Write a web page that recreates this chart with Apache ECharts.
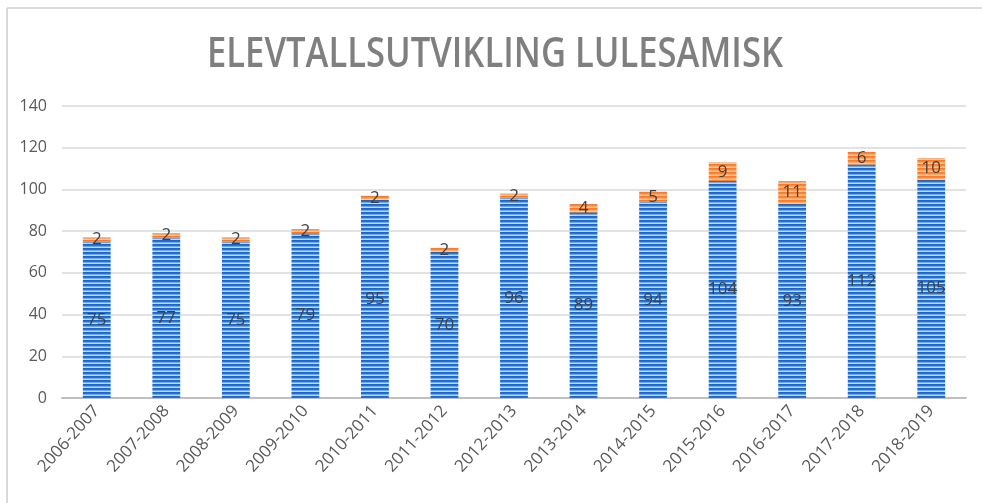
<!DOCTYPE html>
<html><head><meta charset="utf-8">
<script src="https://cdn.jsdelivr.net/npm/echarts@6/dist/echarts.min.js"></script>
<style>html,body{margin:0;padding:0;background:#fff}#c{width:982px;height:503px}</style>
</head><body><div id="c"></div>
<script>
const categories = ['2006-2007','2007-2008','2008-2009','2009-2010','2010-2011','2011-2012','2012-2013','2013-2014','2014-2015','2015-2016','2016-2017','2017-2018','2018-2019'];
const blueValues = [75,77,75,79,95,70,96,89,94,104,93,112,105];
const orangeValues = [2,2,2,2,2,2,2,4,5,9,11,6,10];
const yTicks = {min:0, max:140, interval:20};
const titleText = 'ELEVTALLSUTVIKLING LULESAMISK';

function stripe(colors){
  const c = document.createElement('canvas');
  c.width = 4; c.height = colors.length;
  const ctx = c.getContext('2d');
  colors.forEach((col,i)=>{ctx.fillStyle=col;ctx.fillRect(0,i,4,1);});
  return {image:c, repeat:'repeat'};
}
const bluePat = stripe(['#1f66c2','#2a72cc','#6fa6e6','#c4daf5']);
const orangePat = stripe(['#f47c2c','#f68a3e','#f9a86c','#fbc79f']);

const mc = document.createElement('canvas').getContext('2d');
const titleFont = '600 42px "Open Sans"';
mc.font = titleFont;
const tw = mc.measureText(titleText).width;
const sx = 576 / tw;

const chart = echarts.init(document.getElementById('c'), null, {renderer:'canvas'});
chart.setOption({
  animation:false,
  backgroundColor:'#fff',
  grid:{left:62,right:16,top:106,bottom:105,containLabel:false},
  graphic:[
    {type:'line',shape:{x1:7,y1:8,x2:982,y2:8},style:{stroke:'#d9d9d9',lineWidth:2},z:10},
    {type:'line',shape:{x1:7,y1:8,x2:7,y2:503},style:{stroke:'#d9d9d9',lineWidth:2},z:10},
    {type:'text',x:495,y:55,scaleX:sx,originX:0,style:{text:titleText,font:titleFont,fill:'#7f7f7f',align:'center',verticalAlign:'middle'}}
  ],
  xAxis:{type:'category',data:categories,
    axisLine:{lineStyle:{color:'#bfbfbf',width:2}},axisTick:{show:false},
    axisLabel:{rotate:48,color:'#595959',fontSize:17,fontFamily:'"Open Sans", sans-serif',margin:10,interval:0}},
  yAxis:{type:'value',min:yTicks.min,max:yTicks.max,interval:yTicks.interval,
    axisLine:{show:false},axisTick:{show:false},
    axisLabel:{color:'#595959',fontSize:16,fontFamily:'"Open Sans", sans-serif',margin:15},
    splitLine:{lineStyle:{color:'#d9d9d9',width:1.5}}},
  series:[
    {type:'bar',stack:'s',data:blueValues,barWidth:'40%',itemStyle:{color:bluePat},
      label:{show:true,position:'inside',color:'#404040',fontSize:17,fontFamily:'"Open Sans", sans-serif'}},
    {type:'bar',stack:'s',data:orangeValues,barWidth:'40%',itemStyle:{color:orangePat},
      label:{show:true,position:'inside',color:'#404040',fontSize:17,fontFamily:'"Open Sans", sans-serif'}}
  ]
});
</script></body></html>
